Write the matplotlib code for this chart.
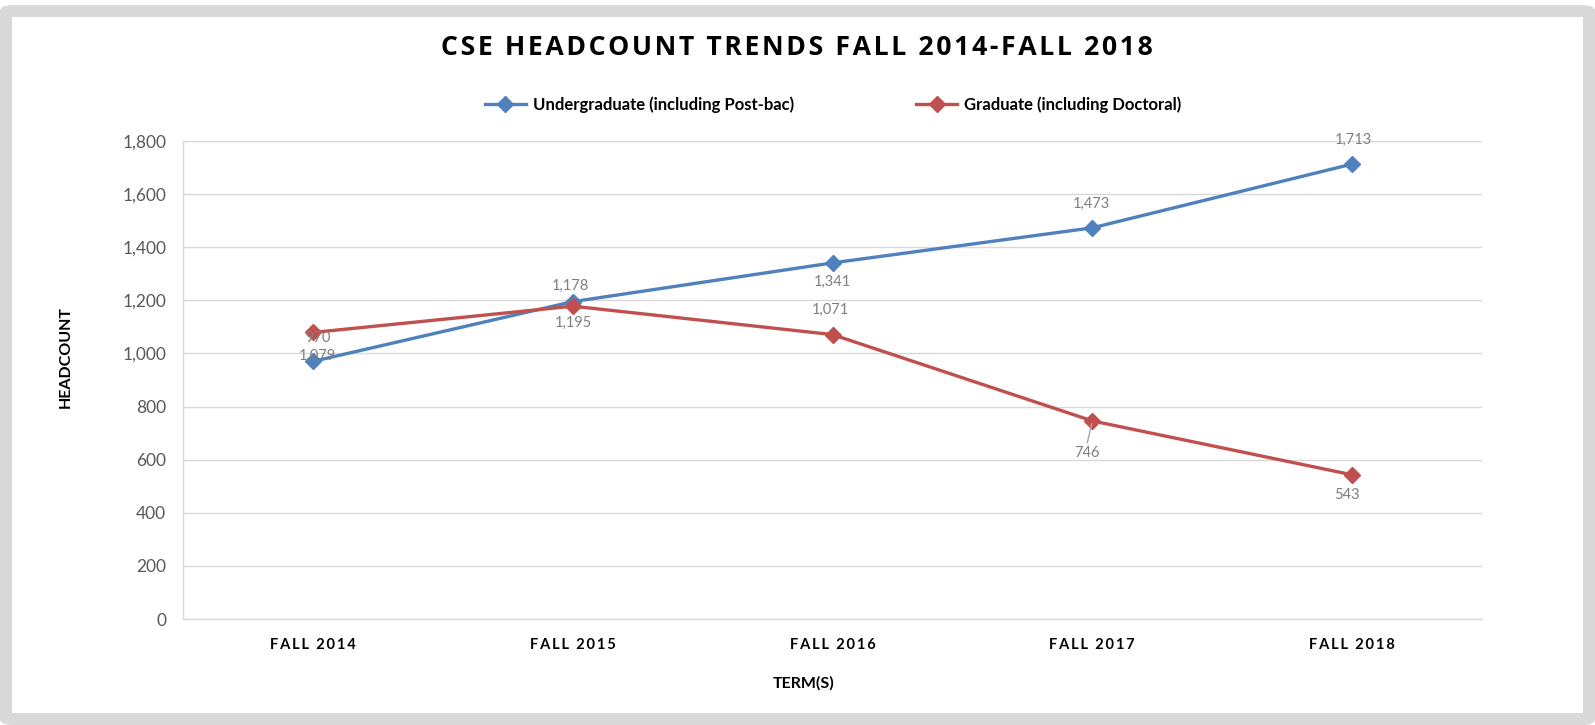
import matplotlib.pyplot as plt
from matplotlib.patches import FancyBboxPatch, Rectangle

terms = ['FALL 2014', 'FALL 2015', 'FALL 2016', 'FALL 2017', 'FALL 2018']
undergrad = [970, 1195, 1341, 1473, 1713]
graduate = [1079, 1178, 1071, 746, 543]
yticks = [0, 200, 400, 600, 800, 1000, 1200, 1400, 1600, 1800]

BLUE = '#4F81BD'
RED = '#C0504D'
GRID = '#D9D9D9'
TICK = '#595959'
LABEL = '#7F7F7F'

plt.rcParams['font.family'] = ['Lato', 'DejaVu Sans']


def spaced(s, gap='\u2009'):
    # fake letter spacing
    return gap.join(s)


fig = plt.figure(figsize=(15.95, 7.25), dpi=100)

# grey frame round the chart
fig.patches.append(FancyBboxPatch((0.0, 0.0), 1.0, 0.993, boxstyle='round,pad=0,rounding_size=0.008',
                                  transform=fig.transFigure, facecolor=GRID, edgecolor='none', zorder=-10))
fig.patches.append(Rectangle((12 / 1595, 12 / 725), 1 - 24 / 1595, 1 - 29 / 725,
                             transform=fig.transFigure, facecolor='white', edgecolor='none', zorder=-9))

ax = fig.add_axes([183 / 1595, 1 - 619 / 725, 1299 / 1595, 478 / 725])
x = list(range(len(terms)))

ax.plot(x, undergrad, color=BLUE, lw=2.4, marker='D', ms=8, label='Undergraduate (including Post-bac)', zorder=3)
ax.plot(x, graduate, color=RED, lw=2.4, marker='D', ms=8, label='Graduate (including Doctoral)', zorder=3)

# data label offsets in pixels (dx, dy)
ug_off = [(5, 23), (1, -21), (0, -19), (-1, 24), (1, 24)]
gr_off = [(4, -23), (-2, 20), (-2, 25), (-5, -32), (-5, -20)]
for i in x:
    ax.annotate(f'{undergrad[i]:,}', (i, undergrad[i]), xytext=ug_off[i], textcoords='offset pixels',
                ha='center', va='center', fontsize=10.5, color=LABEL, zorder=4)
    ax.annotate(f'{graduate[i]:,}', (i, graduate[i]), xytext=gr_off[i], textcoords='offset pixels',
                ha='center', va='center', fontsize=10.5, color=LABEL, zorder=4)
# leader line for the 746 label
ax.annotate('', (3, graduate[3]), xytext=(-5, -22), textcoords='offset pixels',
            arrowprops=dict(arrowstyle='-', color='#A6A6A6', lw=1, shrinkA=0, shrinkB=2))

ax.set_xlim(-0.5, len(terms) - 0.5)
ax.set_ylim(0, 1800)
ax.set_yticks(yticks)
ax.set_yticklabels([f'{v:,}' for v in yticks], fontsize=12.5, color=TICK)
ax.set_xticks(x)
ax.set_xticklabels([spaced(t) for t in terms], fontsize=10.5, fontweight='bold', color='black')
ax.tick_params(axis='both', length=0)
ax.tick_params(axis='y', pad=12)
ax.tick_params(axis='x', pad=14)

ax.grid(axis='y', color=GRID, lw=1)
ax.set_axisbelow(True)
for side in ['top', 'right']:
    ax.spines[side].set_visible(False)
for side in ['left', 'bottom']:
    ax.spines[side].set_color(GRID)
    ax.spines[side].set_linewidth(1)

fig.text(66 / 1595, 1 - 357 / 725, 'HEADCOUNT', rotation=90, ha='center', va='center',
         fontsize=11.5, fontweight='bold')
fig.text(804 / 1595, 1 - 683 / 725, 'TERM(S)', ha='center', va='center', fontsize=11.5, fontweight='bold')

fig.text(797 / 1595, 1 - 48 / 725, spaced('CSE HEADCOUNT TRENDS FALL 2014-FALL 2018', '\u200a'),
         ha='center', va='center', fontsize=19.2, fontweight='bold', family=['Open Sans', 'DejaVu Sans'])

fig.legend(loc='center', bbox_to_anchor=(833 / 1595, 1 - 105 / 725), ncol=2, frameon=False,
           prop={'weight': 'bold', 'size': 12}, handlelength=2.5, columnspacing=7.3,
           handletextpad=0.4)

fig.savefig('out.png', dpi=100)
